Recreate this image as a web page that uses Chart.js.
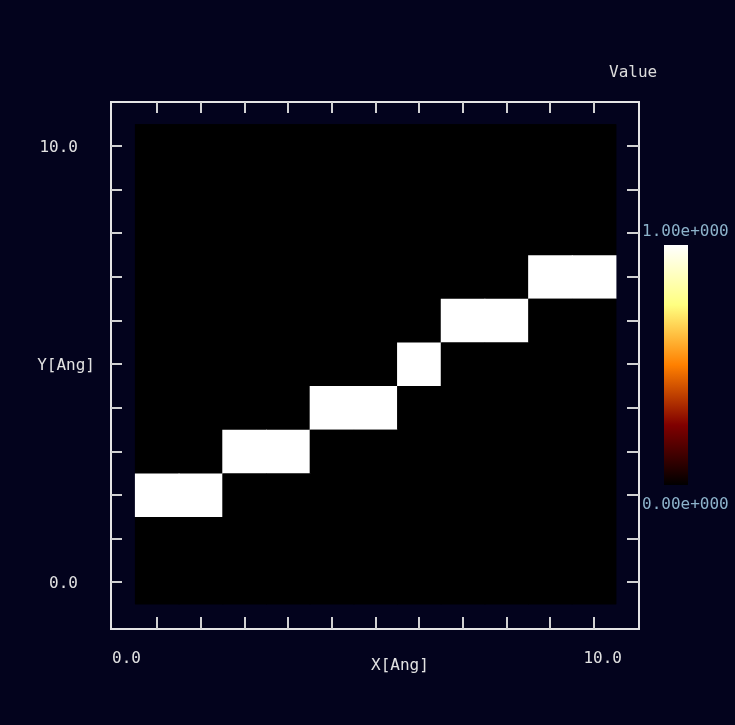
<!DOCTYPE html>
<html>
<head>
<meta charset="utf-8">
<script src="https://cdn.jsdelivr.net/npm/chart.js@4/dist/chart.umd.min.js"></script>
<style>
  html, body { margin: 0; padding: 0; background: #03031d; }
  canvas { display: block; }
</style>
</head>
<body>
<canvas id="map" width="735" height="725"></canvas>
<script>
// Grid cell centres (Angstrom)
const xCells = [0, 1, 2, 3, 4, 5, 6, 7, 8, 9, 10];
const yCells = [0, 1, 2, 3, 4, 5, 6, 7, 8, 9, 10];

// Field value in every cell, one array per row (row 0 = bottom)
const row0  = [0, 0, 0, 0, 0, 0, 0, 0, 0, 0, 0];
const row1  = [0, 0, 0, 0, 0, 0, 0, 0, 0, 0, 0];
const row2  = [1, 1, 0, 0, 0, 0, 0, 0, 0, 0, 0];
const row3  = [0, 0, 1, 1, 0, 0, 0, 0, 0, 0, 0];
const row4  = [0, 0, 0, 0, 1, 1, 0, 0, 0, 0, 0];
const row5  = [0, 0, 0, 0, 0, 0, 1, 0, 0, 0, 0];
const row6  = [0, 0, 0, 0, 0, 0, 0, 1, 1, 0, 0];
const row7  = [0, 0, 0, 0, 0, 0, 0, 0, 0, 1, 1];
const row8  = [0, 0, 0, 0, 0, 0, 0, 0, 0, 0, 0];
const row9  = [0, 0, 0, 0, 0, 0, 0, 0, 0, 0, 0];
const row10 = [0, 0, 0, 0, 0, 0, 0, 0, 0, 0, 0];
const valueRows = [row0, row1, row2, row3, row4, row5, row6, row7, row8, row9, row10];

// Axis ticks and labels
const xTickValues = [0, 1, 2, 3, 4, 5, 6, 7, 8, 9, 10];
const yTickValues = [0, 1, 2, 3, 4, 5, 6, 7, 8, 9, 10];
const xLabelTexts = ['0.0', 'X[Ang]', '10.0'];
const yLabelValues = [10, 5, 0];
const yLabelTexts = ['10.0', 'Y[Ang]', '0.0'];

// Colour bar
const colorbarRange = [0, 1];
const colorbarLabels = ['0.00e+000', '1.00e+000'];
const colorbarTitle = 'Value';

// "afmhot" style colour map: black -> red -> orange -> yellow -> white
function heatColor(v) {
  const t = (v - colorbarRange[0]) / (colorbarRange[1] - colorbarRange[0]);
  const c = (a) => Math.round(255 * Math.max(0, Math.min(1, a)));
  return 'rgb(' + c(2 * t) + ',' + c(2 * t - 0.5) + ',' + c(2 * t - 1) + ')';
}

const BG = '#03031d';
const FONT = '16px "DejaVu Sans Mono", "Liberation Mono", monospace';

const datasets = yCells.map((r, ri) => ({
  label: 'y=' + r,
  data: xCells.map(c => ({ x: c, y: [r - 0.5, r + 0.5] })),
  backgroundColor: valueRows[ri].map(heatColor),
  borderWidth: 0,
  inflateAmount: 0,
  grouped: false,
  barPercentage: 1.02,
  categoryPercentage: 1
}));

const framePlugin = {
  id: 'frame',
  beforeDraw(chart) {
    const ctx = chart.ctx;
    ctx.save();
    ctx.fillStyle = BG;
    ctx.fillRect(0, 0, chart.width, chart.height);
    ctx.restore();
  },
  beforeDatasetsDraw(chart) {
    // zero-valued field underlay covering the cell extent
    const { x, y } = chart.scales;
    const ctx = chart.ctx;
    const x0 = x.getPixelForValue(xCells[0] - 0.5);
    const x1 = x.getPixelForValue(xCells[xCells.length - 1] + 0.5);
    const y0 = y.getPixelForValue(yCells[yCells.length - 1] + 0.5);
    const y1 = y.getPixelForValue(yCells[0] - 0.5);
    ctx.save();
    ctx.fillStyle = heatColor(colorbarRange[0]);
    ctx.fillRect(x0, y0, x1 - x0, y1 - y0);
    ctx.restore();
  },
  afterDraw(chart) {
    const { x, y } = chart.scales;
    const a = chart.chartArea;
    const ctx = chart.ctx;
    ctx.save();

    // frame
    ctx.strokeStyle = '#e4e4e4';
    ctx.lineWidth = 2;
    ctx.strokeRect(a.left + 1, a.top + 1, a.right - a.left - 1, a.bottom - a.top - 1);

    // inward tick marks on all four sides
    const tl = 12;
    ctx.strokeStyle = '#d2d2d2';
    ctx.lineWidth = 2;
    ctx.beginPath();
    xTickValues.forEach(v => {
      const px = Math.round(x.getPixelForValue(v));
      ctx.moveTo(px, a.top + 1); ctx.lineTo(px, a.top + tl);
      ctx.moveTo(px, a.bottom); ctx.lineTo(px, a.bottom - tl);
    });
    yTickValues.forEach(v => {
      const py = Math.round(y.getPixelForValue(v));
      ctx.moveTo(a.left + 1, py); ctx.lineTo(a.left + tl, py);
      ctx.moveTo(a.right, py); ctx.lineTo(a.right - tl, py);
    });
    ctx.stroke();

    // axis labels
    ctx.font = FONT;
    ctx.fillStyle = '#e2e2e2';
    ctx.textBaseline = 'alphabetic';
    ctx.textAlign = 'left';
    ctx.fillText(xLabelTexts[0], a.left + 2, a.bottom + 34);
    ctx.fillText(xLabelTexts[1], 371, a.bottom + 41);
    ctx.textAlign = 'right';
    ctx.fillText(xLabelTexts[2], a.right - 17, a.bottom + 34);

    ctx.textAlign = 'right';
    yLabelValues.forEach((v, i) => {
      const py = y.getPixelForValue(v);
      const rx = (yLabelTexts[i].length > 4) ? a.left - 15 : a.left - 32;
      ctx.fillText(yLabelTexts[i], rx, py + 6);
    });

    // colour bar
    const cb = { left: 664, right: 688, top: 245, bottom: 485 };
    const g = ctx.createLinearGradient(0, cb.bottom, 0, cb.top);
    for (let s = 0; s <= 8; s++) {
      const t = s / 8;
      g.addColorStop(t, heatColor(colorbarRange[0] + t * (colorbarRange[1] - colorbarRange[0])));
    }
    ctx.fillStyle = g;
    ctx.fillRect(cb.left, cb.top, cb.right - cb.left, cb.bottom - cb.top);

    ctx.textAlign = 'left';
    ctx.fillStyle = '#8db3cb';
    ctx.fillText(colorbarLabels[1], 642, 236);
    ctx.fillText(colorbarLabels[0], 642, 509);
    ctx.fillStyle = '#dcdcdc';
    ctx.fillText(colorbarTitle, 609, 77);

    ctx.restore();
  }
};

new Chart(document.getElementById('map'), {
  type: 'bar',
  data: { datasets },
  options: {
    responsive: false,
    animation: false,
    events: [],
    layout: { padding: { left: 110, right: 96, top: 101, bottom: 96 } },
    plugins: { legend: { display: false }, tooltip: { enabled: false } },
    scales: {
      x: {
        type: 'linear', display: false, offset: false,
        min: -1.08, max: 11.027,
        grid: { offset: false }
      },
      y: {
        type: 'linear', display: false,
        min: -1.066, max: 11.034
      }
    }
  },
  plugins: [framePlugin]
});
</script>
</body>
</html>
